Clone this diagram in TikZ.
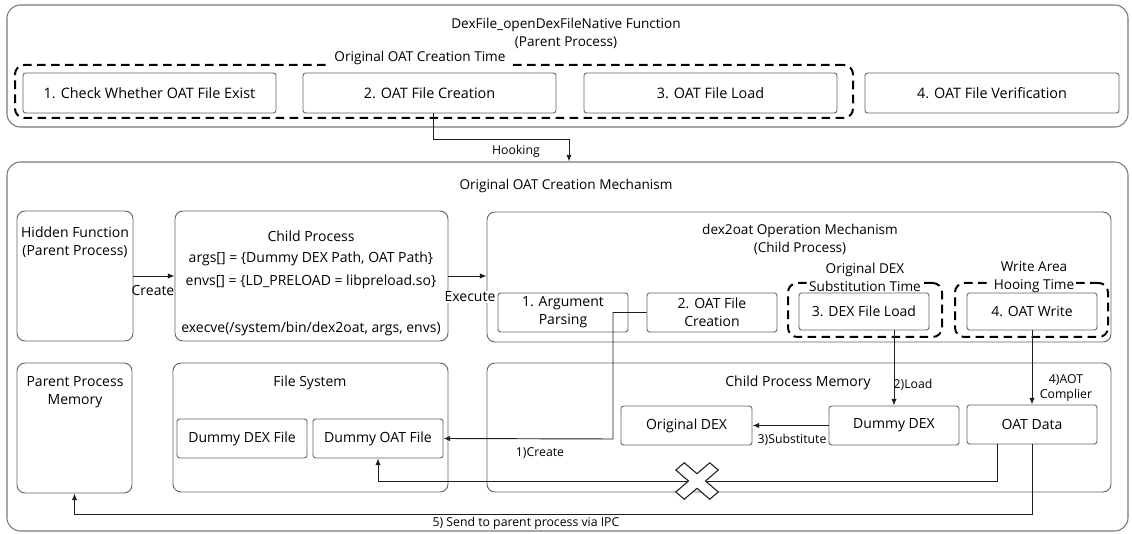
\documentclass[tikz,border=0pt]{standalone}
\usepackage{fontspec}
\setmainfont{Open Sans}
\usetikzlibrary{arrows.meta,fit,calc}
\definecolor{boxgray}{RGB}{100,100,100}
\definecolor{outgray}{RGB}{120,120,120}
\definecolor{linecol}{RGB}{30,30,30}
\begin{document}
\begin{tikzpicture}[x=0.75pt,y=-0.75pt,
  font=\fontsize{10.5}{13.5}\selectfont,
  box/.style={draw=boxgray, line width=0.7pt, rounded corners=2pt, inner sep=0pt},
  pane/.style={draw=boxgray, line width=0.7pt, rounded corners=6pt, inner sep=0pt},
  outer/.style={draw=outgray, line width=0.8pt, rounded corners=10pt, inner sep=0pt},
  dashbox/.style={draw=black, line width=1.5pt, dash pattern=on 6.5pt off 4pt, rounded corners=7pt, inner sep=0pt},
  txt/.style={align=center, inner sep=1pt},
  big/.style={txt, font=\fontsize{10.8}{14}\selectfont},
  ttl/.style={txt, font=\fontsize{10.2}{13.5}\selectfont},
  conn/.style={draw=linecol, line width=0.7pt},
  arr/.style={conn, -{Latex[length=5pt,width=4pt]}},
  small/.style={txt, font=\fontsize{9.2}{11.25}\selectfont},
  cover/.style={fill=white, inner sep=2pt, align=center}]
\useasboundingbox (0,0) rectangle (1132,534);

% ---------- top: parent function ----------
\node[outer, fit={(7,5) (1128,127)}] (top) {};
\node[ttl] (toptitle) at (566,33) {DexFile\_openDexFileNative Function\\(Parent Process)};
\node[dashbox, fit={(15,65) (853,118)}] (oatdash) {};
\node[cover, ttl, inner sep=3pt] (oatdashlbl) at (420,58) {Original OAT Creation Time};
\node[box, fit={(23,73) (276,113)}] (t1) {};
\node[big] (t1l) at (t1.center) {1. Check Whether OAT File Exist};
\node[box, fit={(303,73) (556,113)}] (t2) {};
\node[big] (t2l) at (t2.center) {2. OAT File Creation};
\node[box, fit={(584,73) (837,113)}] (t3) {};
\node[big] (t3l) at (t3.center) {3. OAT File Load};
\node[box, fit={(865,73) (1119,113)}] (t4) {};
\node[big] (t4l) at (t4.center) {4. OAT File Verification};

% ---------- mechanism ----------
\node[outer, fit={(7,162) (1128,531)}] (mech) {};
\node[ttl] (mechtitle) at (566,186) {Original OAT Creation Mechanism};

\node[pane, fit={(17,211) (133,341)}] (hidden) {};
\node[txt] (hiddent) at (75,242) {Hidden Function\\(Parent Process)};

\node[pane, fit={(175,211) (448,341)}] (child) {};
\node[txt] (childt) at (311,236) {Child Process};
\node[txt] (childa) at (311,259) {args[] = \{Dummy DEX Path, OAT Path\}};
\node[txt] (childe) at (311,282) {envs[] = \{LD\_PRELOAD = libpreload.so\}};
\node[txt] (childx) at (311,329) {execve(/system/bin/dex2oat, args, envs)};

\node[pane, fit={(487,212) (1111,342)}] (d2o) {};
\node[ttl] (d2ot) at (800,239) {dex2oat Operation Mechanism\\(Child Process)};
\node[box, fit={(498,293) (628,332)}] (argp) {};
\node[txt] (argpl) at (argp.center) {1. Argument\\Parsing};
\node[box, fit={(647,293) (777,332)}] (oatc) {};
\node[txt] (oatcl) at (oatc.center) {2. OAT File\\Creation};

\node[dashbox, fit={(788,283) (942,337)}] (dexdash) {};
\node[cover, ttl] (dexlbl) at (865,277) {Original DEX\\Substitution Time};
\node[box, fit={(799,293) (929,330)}] (dexload) {};
\node[txt] (dexloadl) at (dexload.center) {3. DEX File Load};

\node[dashbox, fit={(955,283) (1108,337)}] (wrdash) {};
\node[cover, ttl] (wrlbl) at (1034,277) {Write Area\\Hooing Time};
\node[box, fit={(967,293) (1097,330)}] (owrite) {};
\node[txt] (owritel) at (owrite.center) {4. OAT Write};

\node[pane, fit={(17,363) (132,493)}] (pmem) {};
\node[txt] (pmemt) at (75,392) {Parent Process\\Memory};

\node[pane, fit={(173,363) (448,492)}] (fs) {};
\node[txt] (fst) at (310,383) {File System};
\node[box, fit={(177,419) (307,458)}] (ddex) {};
\node[txt] (ddexl) at (ddex.center) {Dummy DEX File};
\node[box, fit={(313,419) (443,458)}] (doat) {};
\node[txt] (doatl) at (doat.center) {Dummy OAT File};

\node[pane, fit={(487,363) (1111,492)}] (cmem) {};
\node[txt] (cmemt) at (798,383) {Child Process Memory};
\node[box, fit={(621,406) (752,445)}] (odex) {};
\node[txt] (odexl) at (odex.center) {Original DEX};
\node[box, fit={(829,406) (959,445)}] (dumdex) {};
\node[txt] (dumdexl) at (dumdex.center) {Dummy DEX};
\node[box, fit={(967,405) (1097,444)}] (oatdata) {};
\node[txt] (oatdatal) at (oatdata.center) {OAT Data};

% ---------- connectors ----------
\coordinate (hk1) at (433,139);
\coordinate (hk2) at (569,139);
\draw[arr] (t2.south -| hk1) -- (hk1) -- (hk2) -- (mech.north -| hk2);
\node[small] (hooklbl) at (516,151) {Hooking};

\draw[arr] (hidden.east) -- (child.west);
\node[txt] (createlbl) at (153,291) {Create};
\draw[arr] (child.east) -- (d2o.west |- child.east);
\node[fill=white, inner sep=1pt] (execlbl) at (470,297) {Execute};

\coordinate (c1) at (613,439);
\draw[arr] (oatc.west) -| (c1) -- (doat.east);
\node[small] (c1lbl) at (540,453) {1)Create};

\draw[arr] (dexload.south -| dumdex.north) -- (dumdex.north);
\node[small] (loadlbl) at (913,385) {2)Load};

\draw[arr] (dumdex.west) -- (odex.east);
\node[small] (sublbl) at (792,440) {3)Substitute};

\draw[arr] (owrite.south) -- (oatdata.north);
\node[small] (aotlbl) at (1066,388) {4)AOT\\Complier};

\coordinate (xa) at (997,481);
\draw[arr] (oatdata.south -| xa) -- (xa) -| (doat.south);

\coordinate (ipc) at (1032,514);
\draw[arr] (oatdata.south -| ipc) -- (ipc) -| (pmem.south);
\node[small] (ipclbl) at (526,523) {5) Send to parent process via IPC};

% X mark
\draw[fill=white, line width=0.8pt, draw=linecol, shift={(697,481)}, yscale=0.86, rotate=45]
  (6,6) -- (6,24) -- (-6,24) -- (-6,6) -- (-24,6) -- (-24,-6) -- (-6,-6) -- (-6,-24)
  -- (6,-24) -- (6,-6) -- (24,-6) -- (24,6) -- cycle;
\end{tikzpicture}
\end{document}
